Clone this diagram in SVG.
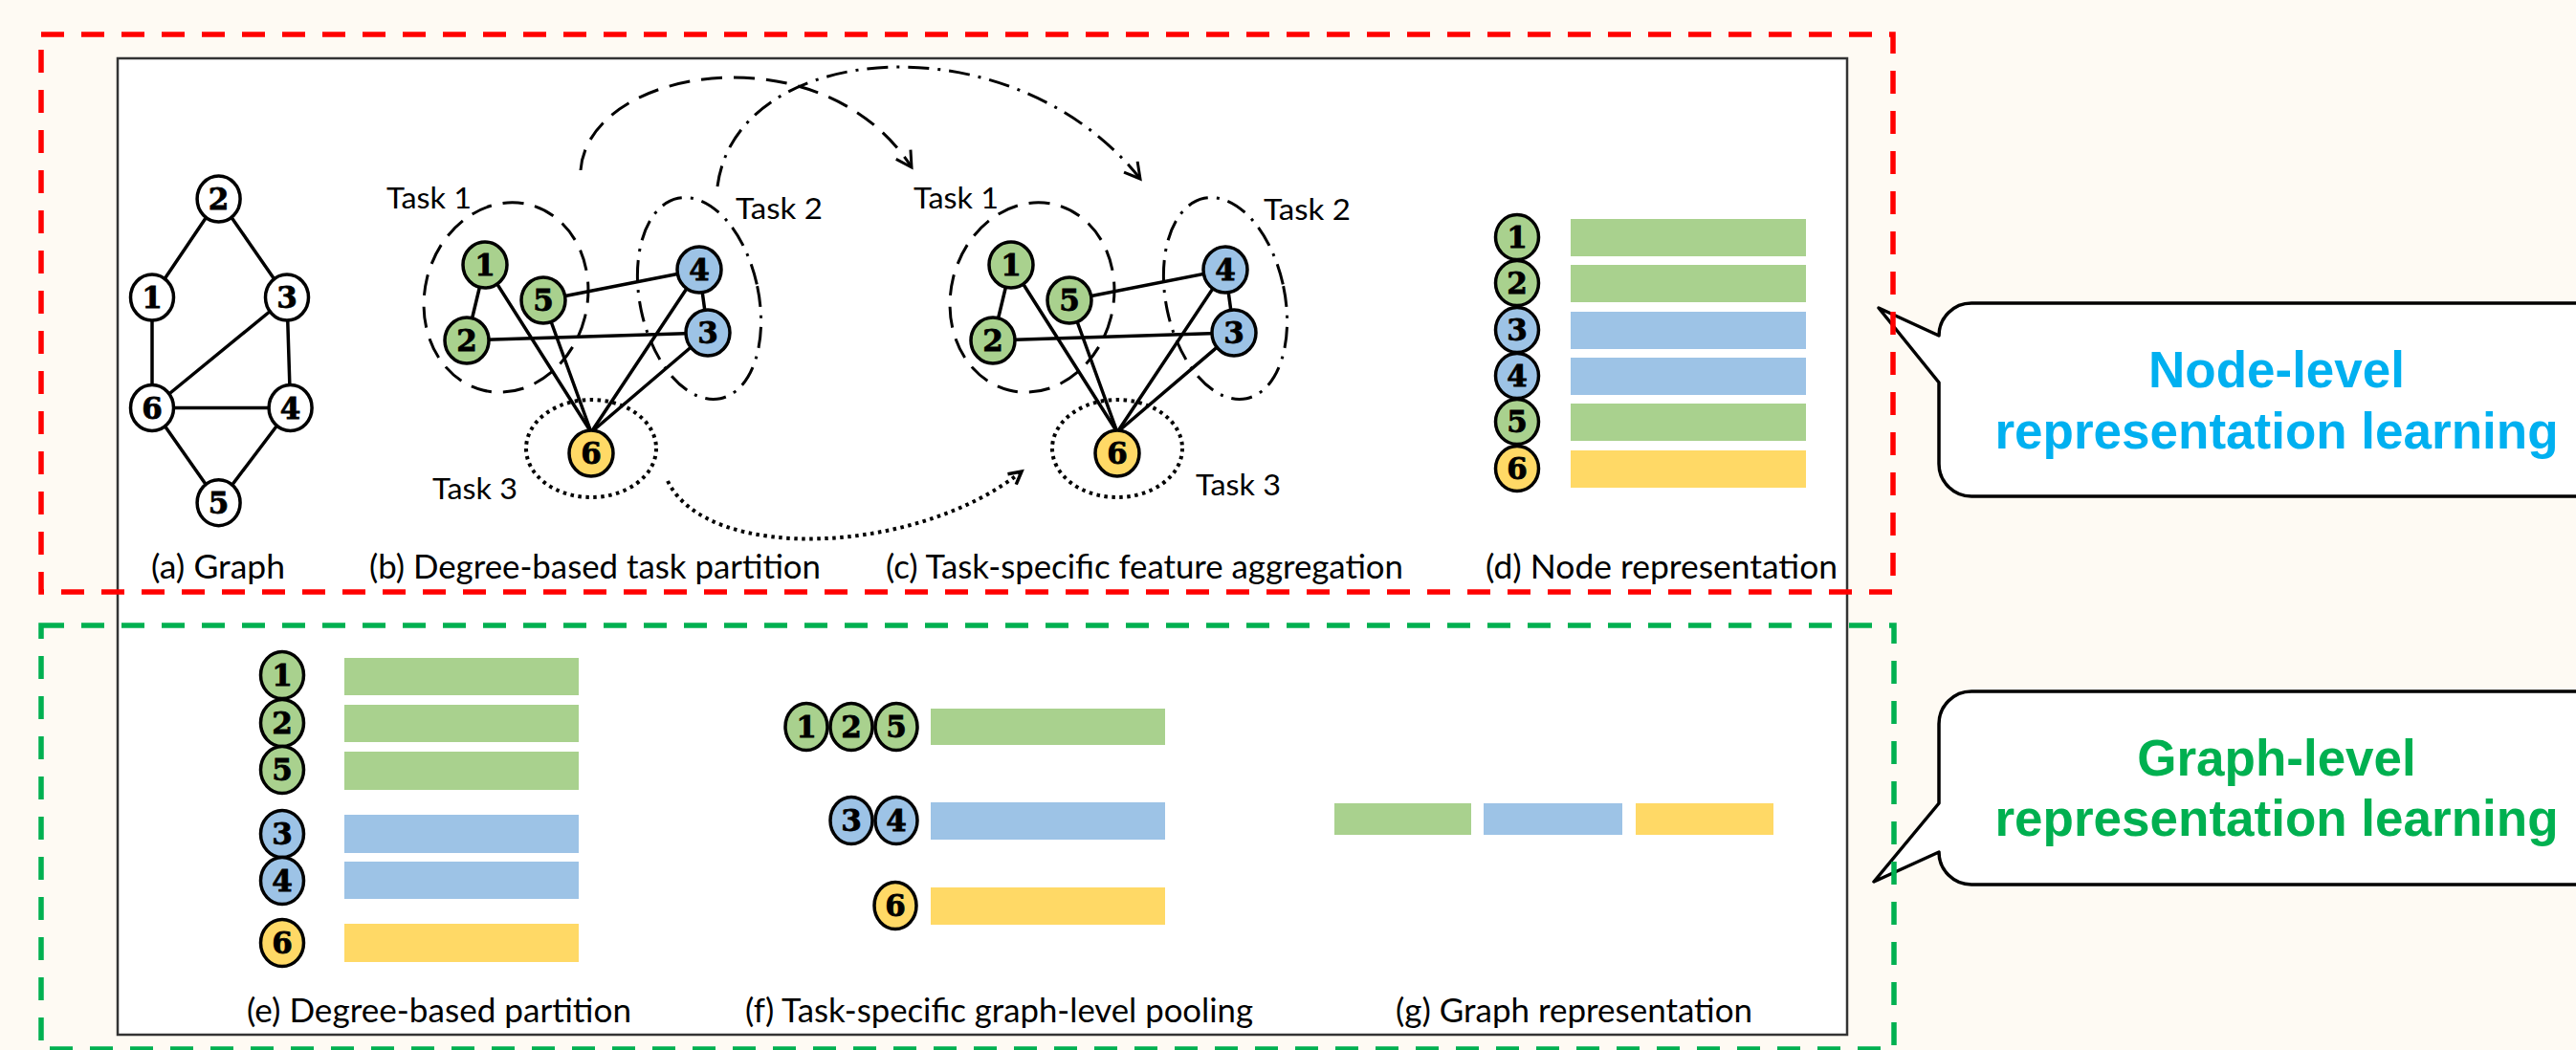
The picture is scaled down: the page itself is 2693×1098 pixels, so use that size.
<svg xmlns="http://www.w3.org/2000/svg" width="2693" height="1098" viewBox="0 0 2693 1098">
<style>
.nd{stroke:#000;stroke-width:3.5}
.w{fill:#fff}.g{fill:#a9d18e}.b{fill:#9dc3e6}.y{fill:#ffd966}
.num{font-family:"DejaVu Serif","Liberation Serif",serif;font-weight:bold;font-size:31px;text-anchor:middle;fill:#000;stroke:#000;stroke-width:0.8}
.edge{stroke:#000;stroke-width:3.5;fill:none;stroke-linecap:round}
.cap{font-family:Lato,"Open Sans",sans-serif;font-size:35px;fill:#000}
.task{font-family:Lato,"Open Sans",sans-serif;font-size:30px;fill:#000}
.t1{fill:none;stroke:#000;stroke-width:3;stroke-dasharray:22 12}
.t2{fill:none;stroke:#000;stroke-width:3;stroke-dasharray:22 9 3 9}
.t3{fill:none;stroke:#000;stroke-width:4;stroke-dasharray:3.5 4.5}
.call{fill:#fff;stroke:#000;stroke-width:3.5;stroke-linejoin:round}
.ct{font-family:"Liberation Sans",Arial,sans-serif;font-weight:bold;font-size:53px;text-anchor:middle}
</style>
<defs>
<marker id="ah" viewBox="-20 -12 24 24" refX="0" refY="0" markerWidth="24" markerHeight="24" markerUnits="userSpaceOnUse" orient="auto">
<path d="M-16 -9 L0 0 L-16 9" fill="none" stroke="#000" stroke-width="3"/>
</marker>
<marker id="ahs" viewBox="-20 -12 24 24" refX="0" refY="0" markerWidth="24" markerHeight="24" markerUnits="userSpaceOnUse" orient="auto">
<path d="M-13 -7 L0 0 L-13 7" fill="none" stroke="#000" stroke-width="3.5"/>
</marker>
</defs>
<rect width="2693" height="1098" fill="#fefaf3"/>
<rect x="123" y="61" width="1808" height="1021" fill="#fff" stroke="#333" stroke-width="2.5"/>

<!-- callouts -->
<g id="callout-node">
<path class="call" d="M2720 317 H2061 A34 34 0 0 0 2027 351 L1964 322 L2027 400 V485 A34 34 0 0 0 2061 519 H2720 Z"/>
<text class="ct" x="2380" y="405" fill="#00b0f0">Node-level</text>
<text class="ct" x="2380" y="469" fill="#00b0f0">representation learning</text>
</g>
<g id="callout-graph">
<path class="call" d="M2720 723 H2061 A34 34 0 0 0 2027 757 V840 L1959 922 L2027 891 A34 34 0 0 0 2061 925 H2720 Z"/>
<text class="ct" x="2380" y="811" fill="#00b050">Graph-level</text>
<text class="ct" x="2380" y="874" fill="#00b050">representation learning</text>
</g>

<!-- dashed region boxes -->
<rect x="43" y="36" width="1936" height="583" fill="none" stroke="#ff0000" stroke-width="5.5" stroke-dasharray="24 18"/>
<rect x="43" y="654" width="1937" height="443" fill="none" stroke="#00b050" stroke-width="5.5" stroke-dasharray="24 18"/>

<!-- task outlines -->
<g id="task-outlines">
<ellipse class="t1" cx="529" cy="311" rx="85" ry="100" transform="rotate(14 529 311)"/>
<ellipse class="t2" cx="731" cy="312" rx="62" ry="107" transform="rotate(-12 731 312)"/>
<ellipse class="t3" cx="618" cy="469" rx="68" ry="51"/>
<ellipse class="t1" cx="1079" cy="311" rx="85" ry="100" transform="rotate(14 1079 311)"/>
<ellipse class="t2" cx="1281" cy="312" rx="62" ry="107" transform="rotate(-12 1281 312)"/>
<ellipse class="t3" cx="1168" cy="469" rx="68" ry="51"/>
</g>

<g id="connectors">
<!-- (a) -->
<line class="edge" x1="228.6" y1="208" x2="159" y2="311"/>
<line class="edge" x1="228.6" y1="208" x2="300" y2="311"/>
<line class="edge" x1="159" y1="311" x2="159" y2="426.5"/>
<line class="edge" x1="300" y1="311" x2="159" y2="426.5"/>
<line class="edge" x1="300" y1="311" x2="303.6" y2="426.5"/>
<line class="edge" x1="159" y1="426.5" x2="303.6" y2="426.5"/>
<line class="edge" x1="159" y1="426.5" x2="228.6" y2="525.7"/>
<line class="edge" x1="303.6" y1="426.5" x2="228.6" y2="525.7"/>
<!-- (b) -->
<line class="edge" x1="507" y1="277" x2="488" y2="356"/>
<line class="edge" x1="507" y1="277" x2="618" y2="452"/>
<line class="edge" x1="568" y1="314" x2="618" y2="452"/>
<line class="edge" x1="568" y1="314" x2="731" y2="282"/>
<line class="edge" x1="488" y1="356" x2="740" y2="348"/>
<line class="edge" x1="731" y1="282" x2="740" y2="348"/>
<line class="edge" x1="731" y1="282" x2="618" y2="452"/>
<line class="edge" x1="740" y1="348" x2="618" y2="452"/>
<!-- (c) -->
<line class="edge" x1="1057" y1="277" x2="1038" y2="356"/>
<line class="edge" x1="1057" y1="277" x2="1168" y2="452"/>
<line class="edge" x1="1118" y1="314" x2="1168" y2="452"/>
<line class="edge" x1="1118" y1="314" x2="1281" y2="282"/>
<line class="edge" x1="1038" y1="356" x2="1290" y2="348"/>
<line class="edge" x1="1281" y1="282" x2="1290" y2="348"/>
<line class="edge" x1="1281" y1="282" x2="1168" y2="452"/>
<line class="edge" x1="1290" y1="348" x2="1168" y2="452"/>
<!-- transfer arrows -->
<path class="t1" d="M607 178 C615 70 860 30 953 175" marker-end="url(#ah)"/>
<path class="t2" d="M750 195 C770 40 1060 20 1192 187" marker-end="url(#ah)"/>
<path class="t3" d="M698 503 C740 590 960 580 1068 493" marker-end="url(#ahs)"/>
</g>

<!-- (a) nodes -->
<g id="a-n2" transform="translate(228.6,208)"><ellipse class="nd w" rx="22.5" ry="24"/><text class="num" y="11">2</text></g>
<g id="a-n1" transform="translate(159,311)"><ellipse class="nd w" rx="22.5" ry="24"/><text class="num" y="11">1</text></g>
<g id="a-n3" transform="translate(300,311)"><ellipse class="nd w" rx="22.5" ry="24"/><text class="num" y="11">3</text></g>
<g id="a-n6" transform="translate(159,426.5)"><ellipse class="nd w" rx="22.5" ry="24"/><text class="num" y="11">6</text></g>
<g id="a-n4" transform="translate(303.6,426.5)"><ellipse class="nd w" rx="22.5" ry="24"/><text class="num" y="11">4</text></g>
<g id="a-n5" transform="translate(228.6,525.7)"><ellipse class="nd w" rx="22.5" ry="24"/><text class="num" y="11">5</text></g>

<!-- (b) nodes -->
<g id="b-n1" transform="translate(507,277)"><ellipse class="nd g" rx="23" ry="24"/><text class="num" y="11">1</text></g>
<g id="b-n5" transform="translate(568,314)"><ellipse class="nd g" rx="23" ry="24"/><text class="num" y="11">5</text></g>
<g id="b-n2" transform="translate(488,356)"><ellipse class="nd g" rx="23" ry="24"/><text class="num" y="11">2</text></g>
<g id="b-n4" transform="translate(731,282)"><ellipse class="nd b" rx="23" ry="24"/><text class="num" y="11">4</text></g>
<g id="b-n3" transform="translate(740,348)"><ellipse class="nd b" rx="23" ry="24"/><text class="num" y="11">3</text></g>
<g id="b-n6" transform="translate(618,474)"><ellipse class="nd y" rx="23" ry="24"/><text class="num" y="11">6</text></g>

<!-- (c) nodes -->
<g id="c-n1" transform="translate(1057,277)"><ellipse class="nd g" rx="23" ry="24"/><text class="num" y="11">1</text></g>
<g id="c-n5" transform="translate(1118,314)"><ellipse class="nd g" rx="23" ry="24"/><text class="num" y="11">5</text></g>
<g id="c-n2" transform="translate(1038,356)"><ellipse class="nd g" rx="23" ry="24"/><text class="num" y="11">2</text></g>
<g id="c-n4" transform="translate(1281,282)"><ellipse class="nd b" rx="23" ry="24"/><text class="num" y="11">4</text></g>
<g id="c-n3" transform="translate(1290,348)"><ellipse class="nd b" rx="23" ry="24"/><text class="num" y="11">3</text></g>
<g id="c-n6" transform="translate(1168,474)"><ellipse class="nd y" rx="23" ry="24"/><text class="num" y="11">6</text></g>

<!-- task labels -->
<g id="task-labels">
<text class="task" x="404" y="218" textLength="89" lengthAdjust="spacingAndGlyphs">Task 1</text>
<text class="task" x="769" y="229" textLength="91" lengthAdjust="spacingAndGlyphs">Task 2</text>
<text class="task" x="452" y="522" textLength="89" lengthAdjust="spacingAndGlyphs">Task 3</text>
<text class="task" x="955" y="218" textLength="89" lengthAdjust="spacingAndGlyphs">Task 1</text>
<text class="task" x="1321" y="230" textLength="91" lengthAdjust="spacingAndGlyphs">Task 2</text>
<text class="task" x="1250" y="518" textLength="89" lengthAdjust="spacingAndGlyphs">Task 3</text>
</g>

<!-- (d) node representation -->
<g id="d-bars">
<rect class="g" x="1642" y="229" width="246" height="39"/>
<rect class="g" x="1642" y="277" width="246" height="39"/>
<rect class="b" x="1642" y="326" width="246" height="39"/>
<rect class="b" x="1642" y="374" width="246" height="39"/>
<rect class="g" x="1642" y="422" width="246" height="39"/>
<rect class="y" x="1642" y="471" width="246" height="39"/>
</g>
<g id="d-n1" transform="translate(1586,248)"><ellipse class="nd g" rx="22.5" ry="23.5"/><text class="num" y="11">1</text></g>
<g id="d-n2" transform="translate(1586,296)"><ellipse class="nd g" rx="22.5" ry="23.5"/><text class="num" y="11">2</text></g>
<g id="d-n3" transform="translate(1586,345)"><ellipse class="nd b" rx="22.5" ry="23.5"/><text class="num" y="11">3</text></g>
<g id="d-n4" transform="translate(1586,393)"><ellipse class="nd b" rx="22.5" ry="23.5"/><text class="num" y="11">4</text></g>
<g id="d-n5" transform="translate(1586,441)"><ellipse class="nd g" rx="22.5" ry="23.5"/><text class="num" y="11">5</text></g>
<g id="d-n6" transform="translate(1586,490)"><ellipse class="nd y" rx="22.5" ry="23.5"/><text class="num" y="11">6</text></g>

<!-- (e) degree-based partition -->
<g id="e-bars">
<rect class="g" x="360" y="688" width="245" height="39"/>
<rect class="g" x="360" y="737" width="245" height="39"/>
<rect class="g" x="360" y="786" width="245" height="40"/>
<rect class="b" x="360" y="852" width="245" height="40"/>
<rect class="b" x="360" y="901" width="245" height="39"/>
<rect class="y" x="360" y="966" width="245" height="40"/>
</g>
<g id="e-n1" transform="translate(295,706)"><ellipse class="nd g" rx="22.5" ry="24.5"/><text class="num" y="11">1</text></g>
<g id="e-n2" transform="translate(295,756)"><ellipse class="nd g" rx="22.5" ry="24.5"/><text class="num" y="11">2</text></g>
<g id="e-n5" transform="translate(295,805)"><ellipse class="nd g" rx="22.5" ry="24.5"/><text class="num" y="11">5</text></g>
<g id="e-n3" transform="translate(295,872)"><ellipse class="nd b" rx="22.5" ry="24.5"/><text class="num" y="11">3</text></g>
<g id="e-n4" transform="translate(295,921)"><ellipse class="nd b" rx="22.5" ry="24.5"/><text class="num" y="11">4</text></g>
<g id="e-n6" transform="translate(295,986)"><ellipse class="nd y" rx="22.5" ry="24.5"/><text class="num" y="11">6</text></g>

<!-- (f) pooling -->
<g id="f-bars">
<rect class="g" x="973" y="741" width="245" height="38"/>
<rect class="b" x="973" y="839" width="245" height="39"/>
<rect class="y" x="973" y="928" width="245" height="39"/>
</g>
<g id="f-n1" transform="translate(843,760)"><ellipse class="nd g" rx="22" ry="24.5"/><text class="num" y="11">1</text></g>
<g id="f-n2" transform="translate(890,760)"><ellipse class="nd g" rx="22" ry="24.5"/><text class="num" y="11">2</text></g>
<g id="f-n5" transform="translate(937,760)"><ellipse class="nd g" rx="22" ry="24.5"/><text class="num" y="11">5</text></g>
<g id="f-n3" transform="translate(890,858)"><ellipse class="nd b" rx="22" ry="24.5"/><text class="num" y="11">3</text></g>
<g id="f-n4" transform="translate(937,858)"><ellipse class="nd b" rx="22" ry="24.5"/><text class="num" y="11">4</text></g>
<g id="f-n6" transform="translate(936,947)"><ellipse class="nd y" rx="22" ry="24.5"/><text class="num" y="11">6</text></g>

<!-- (g) graph representation -->
<g id="g-bars">
<rect class="g" x="1395" y="840" width="143" height="33"/>
<rect class="b" x="1551" y="840" width="145" height="33"/>
<rect class="y" x="1710" y="840" width="144" height="33"/>
</g>

<!-- captions -->
<g id="captions">
<text class="cap" x="158" y="605" textLength="140" lengthAdjust="spacingAndGlyphs">(a) Graph</text>
<text class="cap" x="386" y="605" textLength="472" lengthAdjust="spacingAndGlyphs">(b) Degree-based task partition</text>
<text class="cap" x="926" y="605" textLength="541" lengthAdjust="spacingAndGlyphs">(c) Task-specific feature aggregation</text>
<text class="cap" x="1553" y="605" textLength="368" lengthAdjust="spacingAndGlyphs">(d) Node representation</text>
<text class="cap" x="258" y="1069" textLength="402" lengthAdjust="spacingAndGlyphs">(e) Degree-based partition</text>
<text class="cap" x="779" y="1069" textLength="531" lengthAdjust="spacingAndGlyphs">(f) Task-specific graph-level pooling</text>
<text class="cap" x="1459" y="1069" textLength="373" lengthAdjust="spacingAndGlyphs">(g) Graph representation</text>
</g>
</svg>
